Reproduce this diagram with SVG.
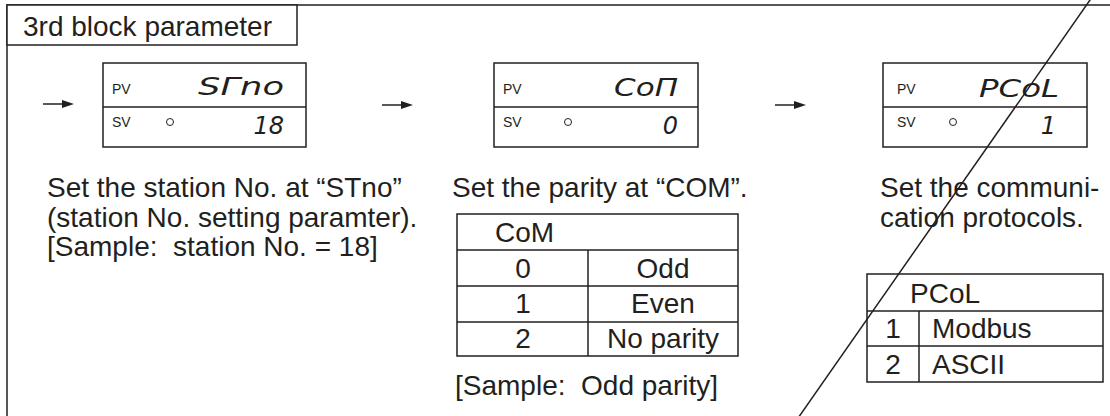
<svg xmlns="http://www.w3.org/2000/svg" width="1110" height="416" viewBox="0 0 1110 416">
<defs>
<style>
.ln{stroke:#231f20;stroke-width:1.5;fill:none}
.box{stroke:#231f20;stroke-width:1.5;fill:#fff}
.t{font-family:"Liberation Sans",Arial,sans-serif;font-size:28px;fill:#231f20;white-space:pre}
.tm{text-anchor:middle}
.lbl{font-family:"Liberation Sans",Arial,sans-serif;font-size:14px;fill:#231f20}
.seg{font-family:"DejaVu Sans",sans-serif;font-style:italic;font-size:24px;fill:#231f20;text-anchor:end}
.ah{fill:#231f20}
</style>
</defs>
<rect width="1110" height="416" fill="#fff"/>
<g id="frame">
<path class="ln" d="M7,416 V5 H1110"/>
</g>
<g id="title">
<rect class="box" x="7" y="5" width="290" height="40"/>
<text class="t" x="23" y="36">3rd block parameter</text>
</g>
<g id="connectors">
<line class="ln" x1="43" y1="104" x2="64" y2="104"/>
<polygon class="ah" points="74,104 62,100 62,108"/>
<line class="ln" x1="382" y1="105" x2="403" y2="105"/>
<polygon class="ah" points="413,105 401,101 401,109"/>
<line class="ln" x1="775" y1="105" x2="796" y2="105"/>
<polygon class="ah" points="806,105 794,101 794,109"/>
</g>
<g id="display-stno">
<rect class="box" x="103" y="63" width="203" height="84"/>
<line class="ln" x1="103" y1="107" x2="306" y2="107"/>
<text class="lbl" x="112" y="94">PV</text>
<text class="lbl" x="112" y="127">SV</text>
<circle cx="170" cy="122" r="3.5" fill="none" stroke="#231f20" stroke-width="1"/>
<text class="seg" x="284" y="95" textLength="86" lengthAdjust="spacingAndGlyphs">SΓno</text>
<text class="seg" x="284" y="134" font-size="28">18</text>
</g>
<g id="display-com">
<rect class="box" x="494" y="63" width="204" height="84"/>
<line class="ln" x1="494" y1="107" x2="698" y2="107"/>
<text class="lbl" x="503" y="94">PV</text>
<text class="lbl" x="503" y="127">SV</text>
<circle cx="568" cy="122" r="3.5" fill="none" stroke="#231f20" stroke-width="1"/>
<text class="seg" x="678" y="96" textLength="64" lengthAdjust="spacingAndGlyphs">CoΠ</text>
<text class="seg" x="678" y="134" font-size="28">0</text>
</g>
<g id="display-pcol">
<rect class="box" x="883" y="63" width="204" height="84"/>
<line class="ln" x1="883" y1="107" x2="1087" y2="107"/>
<text class="lbl" x="897" y="94">PV</text>
<text class="lbl" x="897" y="127">SV</text>
<circle cx="953" cy="122" r="3.5" fill="none" stroke="#231f20" stroke-width="1"/>
<text class="seg" x="1059" y="97" textLength="80" lengthAdjust="spacingAndGlyphs">PCoL</text>
<text class="seg" x="1056" y="134" font-size="28">1</text>
</g>
<g id="desc-stno">
<text class="t" x="47" y="197">Set the station No. at “STno”</text>
<text class="t" x="47" y="226.5">(station No. setting paramter).</text>
<text class="t" x="47" y="256">[Sample:  station No. = 18]</text>
</g>
<g id="desc-com">
<text class="t" x="452" y="197">Set the parity at “COM”.</text>
</g>
<g id="table-com">
<rect class="box" x="457" y="214" width="281" height="142" stroke-width="2"/>
<line class="ln" x1="457" y1="250" x2="738" y2="250"/>
<line class="ln" x1="457" y1="286" x2="738" y2="286"/>
<line class="ln" x1="457" y1="322" x2="738" y2="322"/>
<line class="ln" x1="588" y1="250" x2="588" y2="356"/>
<text class="t" x="495" y="242">CoM</text>
<text class="t tm" x="523" y="278">0</text>
<text class="t tm" x="663" y="278">Odd</text>
<text class="t tm" x="523" y="313">1</text>
<text class="t tm" x="663" y="313">Even</text>
<text class="t tm" x="523" y="348">2</text>
<text class="t tm" x="663" y="348">No parity</text>
</g>
<g id="sample-com">
<text class="t" x="455" y="395">[Sample:  Odd parity]</text>
</g>
<g id="desc-pcol">
<text class="t" x="880" y="197">Set the communi-</text>
<text class="t" x="880" y="226.5">cation protocols.</text>
</g>
<g id="table-pcol">
<rect class="box" x="867" y="274" width="236" height="108" stroke-width="2"/>
<line class="ln" x1="867" y1="311" x2="1103" y2="311"/>
<line class="ln" x1="867" y1="346" x2="1103" y2="346"/>
<line class="ln" x1="919" y1="311" x2="919" y2="382"/>
<text class="t" x="910" y="303">PCoL</text>
<text class="t tm" x="893" y="338">1</text>
<text class="t" x="932" y="338">Modbus</text>
<text class="t tm" x="893" y="374">2</text>
<text class="t" x="932" y="374">ASCII</text>
</g>
<g id="break-line">
<line class="ln" x1="1093.5" y1="-5" x2="796" y2="421" stroke-width="1.8"/>
</g>
</svg>
